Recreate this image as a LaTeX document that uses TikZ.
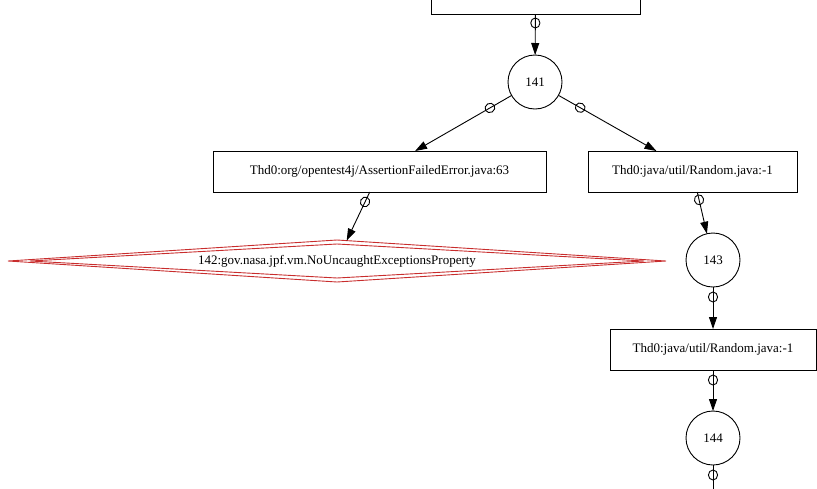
\documentclass[tikz,border=0pt]{standalone}
\usepackage{fontspec}
\setmainfont{Liberation Serif}
\usetikzlibrary{arrows.meta,shapes.geometric,decorations.markings,calc}
\definecolor{dred}{RGB}{200,45,45}
\begin{document}
\begin{tikzpicture}[x=1pt,y=-1pt, font=\fontsize{13}{15}\selectfont, line width=0.9pt,
  box/.style={draw, rectangle, inner sep=0pt, outer sep=0pt},
  circ/.style={draw, circle, minimum size=54pt, inner sep=0pt, outer sep=0pt},
  arr/.style={-{Triangle[length=12pt,width=8pt]}},
  tailc/.style={postaction={decorate}, decoration={markings, mark=at position #1 with {\draw[line width=0.9pt] (0,0) ellipse (5pt and 4.6pt);}}},
  tailc/.default=9pt]
\useasboundingbox (0,0) rectangle (817,488);
\node[box, minimum width=209pt, minimum height=40pt] (top) at (535.5,-6) {};
\node[circ] (n141) at (535,82) {141};
\node[box, minimum width=333pt, minimum height=41pt] (a63) at (379.5,171.5) {Thd0:org/opentest4j/AssertionFailedError.java:63};
\node[box, minimum width=209pt, minimum height=41pt] (r1) at (692.5,171.5) {Thd0:java/util/Random.java:-1};
\node[diamond, draw=dred, aspect=15.67, minimum width=658pt, minimum height=42pt, inner sep=0pt, outer sep=0pt] (d142) at (337,261) {142:gov.nasa.jpf.vm.NoUncaughtExceptionsProperty};
\draw[dred] ($(d142.west)+(22,0)$) -- ($(d142.north)+(0,4)$) -- ($(d142.east)+(-22,0)$) -- ($(d142.south)+(0,-4)$) -- cycle;
\node[circ] (n143) at (713,260) {143};
\node[box, minimum width=206pt, minimum height=41pt] (r2) at (713,349.5) {Thd0:java/util/Random.java:-1};
\node[circ] (n144) at (713,438) {144};
\coordinate (bot) at (713,500);
\draw[arr, tailc] (top) -- (n141);
\draw[arr, tailc=25pt] (n141) -- (a63);
\draw[arr, tailc=25pt] (n141) -- (r1);
\draw[arr, tailc=11pt] (a63) -- (d142);
\draw[arr, tailc=8pt] (r1) -- (n143);
\draw[arr, tailc=10pt] (n143) -- (r2);
\draw[arr, tailc=10pt] (r2) -- (n144);
\draw[tailc=10pt] (n144) -- (bot);
\end{tikzpicture}
\end{document}
